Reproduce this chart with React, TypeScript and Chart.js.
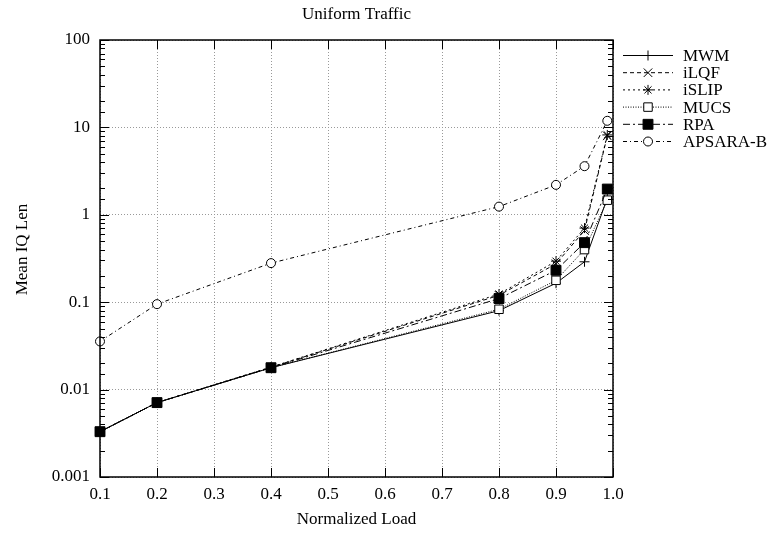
import React, { useEffect, useRef } from 'react';
import { Chart, registerables } from 'chart.js';
import { drawPoint } from 'chart.js/helpers';

Chart.register(...registerables);

// ---- data ----
const loads = [0.1, 0.2, 0.4, 0.8, 0.9, 0.95, 0.99];
const mwm = [0.0033, 0.0071, 0.0178, 0.080, 0.165, 0.29, 1.55];
const ilqf = [0.0033, 0.0071, 0.0180, 0.120, 0.275, 0.66, 8.0];
const islip = [0.0033, 0.0071, 0.0181, 0.124, 0.295, 0.705, 8.2];
const mucs = [0.0033, 0.0071, 0.0178, 0.083, 0.178, 0.40, 1.47];
const rpa = [0.0033, 0.0071, 0.0178, 0.110, 0.232, 0.48, 1.97];
const apsara = [0.0356, 0.095, 0.28, 1.24, 2.2, 3.6, 11.9];

const seriesNames = ['MWM', 'iLQF', 'iSLIP', 'MUCS', 'RPA', 'APSARA-B'];
const xTickLabels = ['0.1', '0.2', '0.3', '0.4', '0.5', '0.6', '0.7', '0.8', '0.9', '1.0'];
const yTickLabels = ['0.001', '0.01', '0.1', '1', '10', '100'];
const chartTitle = 'Uniform Traffic';
const xTitle = 'Normalized Load';
const yTitle = 'Mean IQ Len';

const FONT = '"Liberation Serif", "Times New Roman", serif';

const toPoints = (vals: number[]) => loads.map((x, i) => ({ x, y: vals[i] }));

const isDecade = (v: number) => {
  const l = Math.log10(v);
  return Math.abs(l - Math.round(l)) < 1e-6;
};

const frameAndTicks = {
  id: 'frameAndTicks',
  afterDatasetsDraw(chart: any) {
    const { ctx, chartArea: a, scales } = chart;
    const xs = scales.x;
    const ys = scales.y;
    ctx.save();
    ctx.strokeStyle = '#000';
    ctx.lineWidth = 1;
    ctx.setLineDash([]);
    ctx.beginPath();
    xs.ticks.forEach((t: any) => {
      const px = Math.round(xs.getPixelForValue(t.value)) + 0.5;
      ctx.moveTo(px, a.bottom);
      ctx.lineTo(px, a.bottom - 9);
      ctx.moveTo(px, a.top);
      ctx.lineTo(px, a.top + 9);
    });
    ys.ticks.forEach((t: any) => {
      const py = Math.round(ys.getPixelForValue(t.value)) + 0.5;
      const len = isDecade(t.value) ? 9 : 5;
      ctx.moveTo(a.left, py);
      ctx.lineTo(a.left + len, py);
      ctx.moveTo(a.right, py);
      ctx.lineTo(a.right - len, py);
    });
    ctx.stroke();
    ctx.lineWidth = 1.5;
    ctx.strokeRect(a.left, a.top, a.right - a.left, a.bottom - a.top);
    ctx.restore();
  },
  afterDraw(chart: any) {
    const { ctx, chartArea: a } = chart;
    ctx.save();
    // y axis title
    ctx.fillStyle = '#000';
    ctx.font = `17px ${FONT}`;
    ctx.textAlign = 'center';
    ctx.textBaseline = 'middle';
    ctx.translate(23, (a.top + a.bottom) / 2 - 9);
    ctx.rotate(-Math.PI / 2);
    ctx.fillText(yTitle, 0, 0);
    ctx.restore();

    // legend
    ctx.save();
    const x0 = a.right + 10;
    const x1 = x0 + 50;
    chart.data.datasets.forEach((ds: any, i: number) => {
      const y = 55.5 + i * 17.2;
      ctx.strokeStyle = '#000';
      ctx.lineWidth = ds.borderWidth;
      ctx.setLineDash(ds.borderDash || []);
      ctx.beginPath();
      ctx.moveTo(x0, y);
      ctx.lineTo(x1, y);
      ctx.stroke();
      ctx.setLineDash([]);
      ctx.fillStyle = ds.pointBackgroundColor;
      ctx.strokeStyle = '#000';
      ctx.lineWidth = 1;
      drawPoint(ctx, { pointStyle: ds.pointStyle, rotation: 0, radius: ds.pointRadius, borderWidth: 1 }, (x0 + x1) / 2, y);
      ctx.fillStyle = '#000';
      ctx.font = `17px ${FONT}`;
      ctx.textAlign = 'left';
      ctx.textBaseline = 'middle';
      ctx.fillText(ds.label, x1 + 10, y + 1);
    });
    ctx.restore();
  },
};

export default function App() {
  const ref = useRef<HTMLCanvasElement | null>(null);
  useEffect(() => {
    if (!ref.current) return;
    const base = { borderColor: '#000', borderWidth: 1, pointBorderColor: '#000', pointBorderWidth: 1, clip: false as any, tension: 0 };
    const chart = new Chart(ref.current, {
      type: 'line',
      data: {
        datasets: [
          { ...base, order: 6, label: seriesNames[0], data: toPoints(mwm), borderDash: [], pointStyle: 'cross', pointRadius: 5, pointBackgroundColor: '#000' },
          { ...base, order: 5, label: seriesNames[1], data: toPoints(ilqf), borderDash: [4, 3], pointStyle: 'crossRot', pointRadius: 6, pointBackgroundColor: '#000' },
          { ...base, order: 4, label: seriesNames[2], data: toPoints(islip), borderDash: [2, 3], pointStyle: 'star', pointRadius: 5, pointBackgroundColor: '#000' },
          { ...base, order: 3, label: seriesNames[3], data: toPoints(mucs), borderDash: [1, 1.5], pointStyle: 'rect', pointRadius: 6, pointBackgroundColor: '#fff' },
          { ...base, order: 2, label: seriesNames[4], data: toPoints(rpa), borderDash: [7, 3, 2, 3], pointStyle: 'rect', pointRadius: 7, pointBackgroundColor: '#000' },
          { ...base, order: 1, label: seriesNames[5], data: toPoints(apsara), borderDash: [4, 3, 1, 3], pointStyle: 'circle', pointRadius: 4.5, pointBackgroundColor: '#fff' },
        ] as any,
      },
      options: {
        responsive: false,
        animation: false,
        events: [],
        layout: { padding: { left: 0, right: 158, top: 0, bottom: 0 } },
        plugins: {
          legend: { display: false },
          tooltip: { enabled: false },
          title: {
            display: true,
            text: chartTitle,
            fullSize: false,
            color: '#000',
            font: { family: FONT, size: 17, weight: 'normal' },
            padding: { top: 4, bottom: 15.6 },
          },
        },
        scales: {
          x: {
            type: 'linear',
            min: 0.1,
            max: 1.0,
            afterFit: (s: any) => { s.height = 59; },
            grid: { color: '#999999', lineWidth: 1, drawTicks: false },
            border: { display: false, dash: [1, 2] },
            ticks: {
              stepSize: 0.1,
              autoSkip: false,
              maxRotation: 0,
              padding: 7,
              color: '#000',
              font: { family: FONT, size: 17 },
              callback: (_v: any, i: number) => xTickLabels[i],
            },
            title: {
              display: true,
              text: xTitle,
              color: '#000',
              font: { family: FONT, size: 17 },
              padding: { top: 0, bottom: 6 },
            },
          },
          y: {
            type: 'logarithmic',
            min: 0.001,
            max: 100,
            afterFit: (s: any) => { s.width = 100; },
            grid: {
              color: (c: any) => (c.tick && isDecade(c.tick.value) ? '#999999' : 'rgba(0,0,0,0)'),
              lineWidth: 1,
              drawTicks: false,
            },
            border: { display: false, dash: [1, 2] },
            ticks: {
              autoSkip: false,
              padding: 10,
              color: '#000',
              font: { family: FONT, size: 17 },
              callback: (v: any) => (isDecade(v) ? yTickLabels[Math.round(Math.log10(v)) + 3] : ''),
            },
          },
        },
      } as any,
      plugins: [frameAndTicks],
    });
    return () => chart.destroy();
  }, []);
  return (
    <div style={{ position: 'fixed', left: 0, top: 0, width: 771, height: 536, background: '#fff' }}>
      <canvas ref={ref} width={771} height={536} />
    </div>
  );
}
